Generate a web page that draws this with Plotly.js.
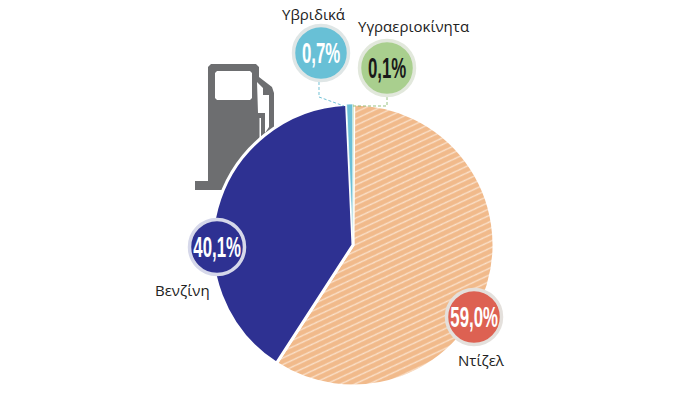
<!DOCTYPE html>
<html><head><meta charset="utf-8">
<script src="https://cdn.plot.ly/plotly-3.0.1.min.js"></script>
<style>html,body{margin:0;padding:0;background:#fff}</style>
</head><body><div id="chart" style="width:700px;height:393px"></div>
<script>
var categories = ['Ντίζελ','Βενζίνη','Υβριδικά','Υγραεριοκίνητα'];
var shares = [59.0,40.1,0.7,0.1];
var valueLabels = ['59,0%','40,1%','0,7%','0,1%'];
var sliceColors = ['#f1ba8b','#2e3192','#6bbfd6','#a9cf8e'];
var bubbleColors = ['#dd6152','#2e3192','#68c0d6','#a9cf8e'];
var ringColors = ['#e4e0dc','#d6d8ea','#dfe6e6','#e2e8dc'];
var valueColors = ['#ffffff','#ffffff','#ffffff','#1a1a1a'];
var bubbleX = [474,217,321,387];
var bubbleY = [317,247,53,68];
var bubbleR = 27.5;
var labelX = [481,182,313.5,413];
var labelY = [360,290,14,26];
var W=700,H=393;
function px(x){return x/W}
function py(y){return 1-y/H}
var shapes=[];
function path(d,fill,layer){shapes.push({type:'path',xref:'paper',yref:'paper',path:d,fillcolor:fill,line:{width:0},layer:layer||'below'});}
function P(pts,close){return 'M'+pts.map(function(p){return px(p[0]).toFixed(5)+','+py(p[1]).toFixed(5)}).join('L')+(close===false?'':'Z');}
// fuel pump pictogram
path(P([[211,64],[256,64],[259,67],[259,77],[272,87],[274,93],[274,150],[262,150],[262,185],[208,185],[208,67]]),'#6d6e70');
path(P([[195,181],[225,181],[225,190],[195,190]]),'#6d6e70');
path(P([[217,71],[250,71],[252,73],[252,98],[250,100],[217,100],[215,98],[215,73]]),'#ffffff');
path(P([[257,82],[263,88],[263,95],[269,95],[269,127],[265,133],[265,113],[258,113]]),'#ffffff');
path(P([[259.5,118],[261,118],[261,140],[259.5,140]]),'#ffffff');
// leaders
function leader(pts,col){shapes.push({type:'path',xref:'paper',yref:'paper',path:P(pts,false),line:{color:col,width:0.8,dash:'3px,2px'},fillcolor:'rgba(0,0,0,0)',layer:'above'});}
leader([[319,82],[319,97],[344,106]],'#4fb3cc');
leader([[387,97],[387,106],[353,106]],'#7fb35f');
var annotations=[];
for(var i=0;i<categories.length;i++){
  shapes.push({type:'circle',xref:'paper',yref:'paper',layer:'above',
    x0:px(bubbleX[i]-bubbleR),x1:px(bubbleX[i]+bubbleR),
    y0:py(bubbleY[i]+bubbleR),y1:py(bubbleY[i]-bubbleR),
    fillcolor:bubbleColors[i],line:{color:ringColors[i],width:3.5}});
  annotations.push({xref:'paper',yref:'paper',x:px(bubbleX[i]),y:py(bubbleY[i]),showarrow:false,xanchor:'center',yanchor:'middle',
    text:'<b>'+valueLabels[i]+'</b>',font:{family:'"Liberation Sans",sans-serif',size:29,color:valueColors[i]}});
}
for(var j=0;j<categories.length;j++){
  annotations.push({xref:'paper',yref:'paper',x:px(labelX[j]),y:py(labelY[j]),showarrow:false,xanchor:'center',yanchor:'middle',
    text:categories[j],font:{family:'"Open Sans",sans-serif',size:15,color:'#222222'}});
}
var data=[{type:'pie',labels:categories,values:shares,sort:false,direction:'clockwise',rotation:0.3,textinfo:'none',hoverinfo:'label+percent',showlegend:false,automargin:false,
  domain:{x:[px(212),px(494)],y:[py(386),py(104)]},
  marker:{colors:sliceColors,line:{color:'#ffffff',width:[3,3,0.6,0.4]},
    pattern:{shape:['/','','',''],fgcolor:['#fbe3ce','','',''],bgcolor:['#f1ba8b','#2e3192','#6bbfd6','#a9cf8e'],size:[6,6,6,6],solidity:[0.2,0,0,0],fillmode:'replace'}}}];
var layout={width:W,height:H,margin:{l:0,r:0,t:0,b:0},paper_bgcolor:'#fff',plot_bgcolor:'#fff',showlegend:false,shapes:shapes,annotations:annotations};
Plotly.newPlot('chart',data,layout,{displayModeBar:false,staticPlot:true}).then(function(gd){
  // condensed look for the percentage figures; shallower hatch angle
  var texts=gd.querySelectorAll('.annotation-text');
  for(var k=0;k<categories.length;k++){
    texts[k].style.transformBox='fill-box';
    texts[k].style.transformOrigin='center';
    texts[k].style.transform='scaleX(0.58)';
  }
  gd.querySelectorAll('pattern').forEach(function(p){p.setAttribute('patternTransform','rotate(20)');});
});
</script></body></html>
